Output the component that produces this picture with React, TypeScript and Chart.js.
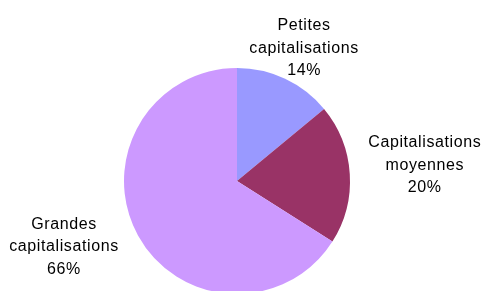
import React, { useEffect, useRef } from "react";
import { Chart, registerables } from "chart.js";

Chart.register(...registerables);

const categories: string[][] = [
  ["Petites", "capitalisations"],
  ["Capitalisations", "moyennes"],
  ["Grandes", "capitalisations"],
];
const shares: number[] = [14, 20, 66];
const colors: string[] = ["#9999FF", "#993366", "#CC99FF"];

// label nudges (px) from each slice's outer mid-point to the middle line's baseline
const labelNudge: [number, number][] = [
  [19, -26],
  [75, -4],
  [-74, 16],
];

const labelPlugin = {
  id: "sliceLabels",
  afterDatasetsDraw(chart: any) {
    const ctx: CanvasRenderingContext2D = chart.ctx;
    const meta = chart.getDatasetMeta(0);
    ctx.save();
    ctx.font = '16px "Liberation Sans", Arial, sans-serif';
    (ctx as any).letterSpacing = "0.6px";
    ctx.fillStyle = "#000000";
    ctx.textAlign = "center";
    ctx.textBaseline = "alphabetic";
    const lh = 22.5;
    meta.data.forEach((arc: any, i: number) => {
      const p = arc.getProps(["x", "y", "startAngle", "endAngle", "outerRadius"], true);
      const mid = (p.startAngle + p.endAngle) / 2;
      const ox = p.x + Math.cos(mid) * p.outerRadius;
      const oy = p.y + Math.sin(mid) * p.outerRadius;
      const cx = ox + labelNudge[i][0];
      const by = oy + labelNudge[i][1];
      const lines = [...categories[i], `${shares[i]}%`];
      lines.forEach((t, k) => {
        ctx.fillText(t, cx, by + (k - 1) * lh);
      });
    });
    ctx.restore();
  },
};

export default function App() {
  const ref = useRef<HTMLCanvasElement | null>(null);
  useEffect(() => {
    document.body.style.margin = "0";
    document.body.style.overflow = "hidden";
    const chart = new Chart(ref.current as HTMLCanvasElement, {
      type: "pie",
      data: {
        labels: categories.map((c) => c.join(" ")),
        datasets: [
          {
            data: shares,
            backgroundColor: colors,
            borderWidth: 0,
          },
        ],
      },
      options: {
        responsive: false,
        animation: false,
        layout: { padding: { left: 124, right: 135, top: 68, bottom: 16 } },
        plugins: {
          legend: { display: false },
          tooltip: { enabled: false },
        },
      },
      plugins: [labelPlugin],
    });
    return () => chart.destroy();
  }, []);
  return (
    <div style={{ position: "absolute", left: 0, top: 0, width: 485, height: 291, overflow: "hidden", background: "#fff" }}>
      <canvas ref={ref} width={485} height={310} style={{ display: "block" }} />
    </div>
  );
}
